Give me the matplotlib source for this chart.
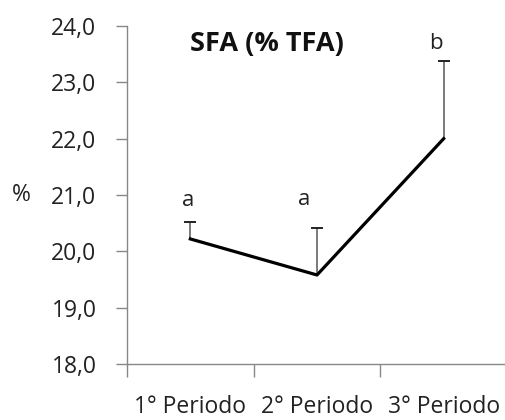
import matplotlib
matplotlib.use("Agg")
import matplotlib.pyplot as plt
import numpy as np

categories = ["1° Periodo", "2° Periodo", "3° Periodo"]
values = [20.22, 19.58, 22.0]
err_up = [0.30, 0.83, 1.38]
letters = ["a", "a", "b"]
yticks = [18.0, 19.0, 20.0, 21.0, 22.0, 23.0, 24.0]
ytick_labels = ["18,0", "19,0", "20,0", "21,0", "22,0", "23,0", "24,0"]

plt.rcParams['font.family'] = ['Open Sans', 'DejaVu Sans']

fig = plt.figure(figsize=(5.06, 4.2), dpi=100)
ax = fig.add_axes([127/506, 1-364/420, 380/506, (364-26)/420])
ax.set_xlim(0.5, 3.5)
ax.set_ylim(18.0, 24.0)

x = np.arange(1, len(categories) + 1)
tops = np.array(values) + np.array(err_up)
ax.vlines(x, values, tops, colors='#707070', linewidth=1.3, zorder=2)
ax.plot(x, tops, linestyle='none', marker='_', markersize=9, markeredgewidth=1.4,
        color='#222222', zorder=2)
ax.plot(x, values, color='black', linewidth=2.3, zorder=3)

letter_x = [0.98, 1.9, 2.94]
letter_y = [20.8, 20.83, 23.6]
for lx, ly, lt in zip(letter_x, letter_y, letters):
    ax.text(lx, ly, lt, ha='center', va='baseline', fontsize=16, color='#222222')

ax.text(190/506, 1-44/420, "SFA (% TFA)", transform=fig.transFigure, ha='left',
        va='center', fontsize=19.5, fontweight='bold', color='#111111')

ax.set_yticks(yticks)
ax.set_yticklabels(ytick_labels, fontsize=16.5, color='#222222')
ax.set_xticks(x)
ax.set_xticklabels(categories, fontsize=16.5, color='#222222')
ax.set_xticks([0.5, 1.5, 2.5, 3.5], minor=True)
ax.tick_params(axis='x', which='major', length=0, pad=22)
ax.tick_params(axis='x', which='minor', length=9, color='#888888', width=1)
ax.tick_params(axis='y', length=8, color='#888888', width=1, pad=14)

for s in ['top', 'right']:
    ax.spines[s].set_visible(False)
for s in ['left', 'bottom']:
    ax.spines[s].set_color('#888888')
    ax.spines[s].set_linewidth(1)

fig.text(21/506, 1-195/420, "%", ha='center', va='center', fontsize=16.5, color='#222222')

fig.savefig("out.png", dpi=100)
